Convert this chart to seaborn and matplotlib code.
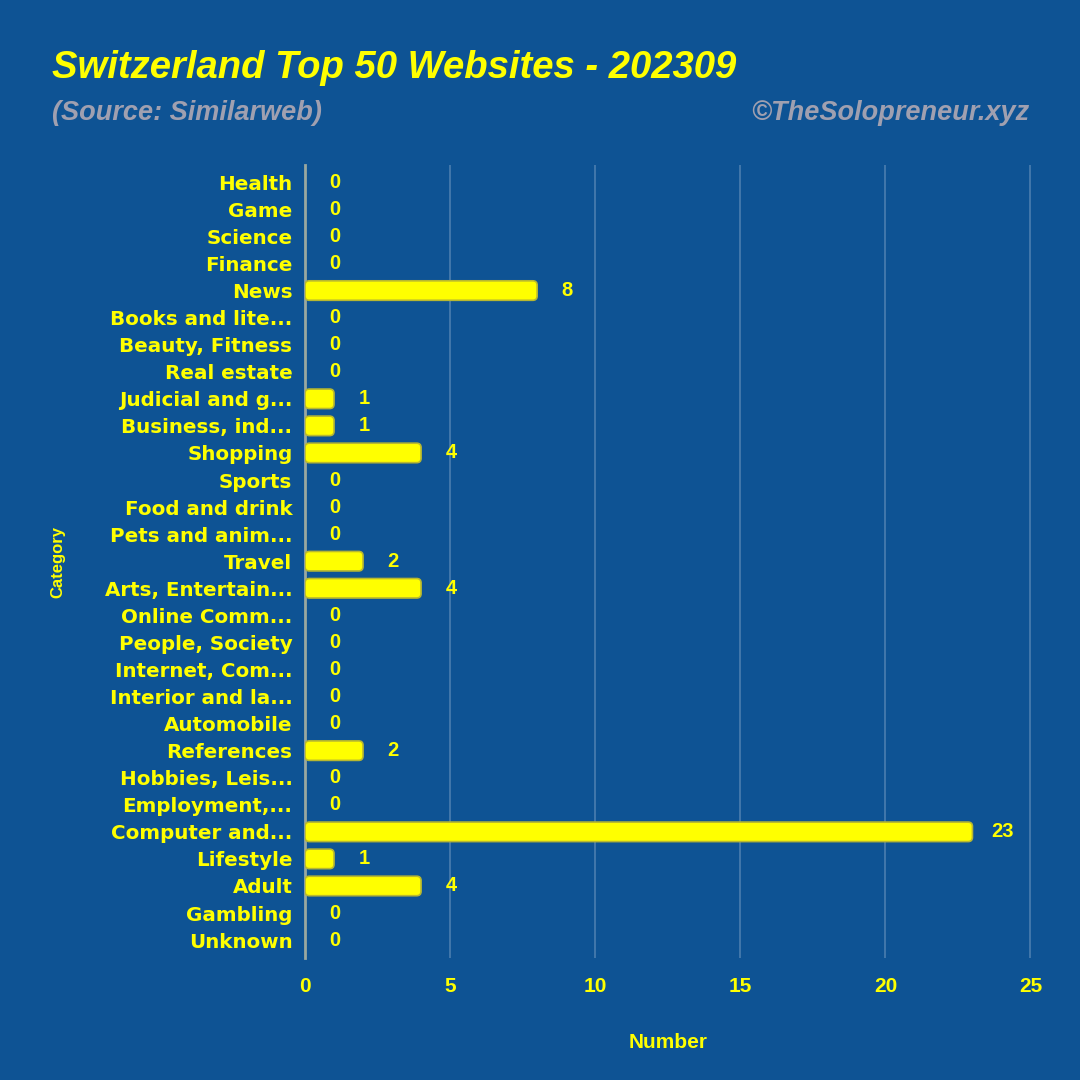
import matplotlib
matplotlib.use("Agg")
import matplotlib.pyplot as plt
import seaborn as sns
import pandas as pd
from matplotlib.patches import FancyBboxPatch

categories = ["Health", "Game", "Science", "Finance", "News", "Books and lite...",
              "Beauty, Fitness", "Real estate", "Judicial and g...", "Business, ind...",
              "Shopping", "Sports", "Food and drink", "Pets and anim...", "Travel",
              "Arts, Entertain...", "Online Comm...", "People, Society", "Internet, Com...",
              "Interior and la...", "Automobile", "References", "Hobbies, Leis...",
              "Employment,...", "Computer and...", "Lifestyle", "Adult", "Gambling", "Unknown"]
values = [0, 0, 0, 0, 8, 0, 0, 0, 1, 1, 4, 0, 0, 0, 2, 4, 0, 0, 0, 0, 0, 2, 0, 0, 23, 1, 4, 0, 0]
x_ticks = [0, 5, 10, 15, 20, 25]

title = "Switzerland Top 50 Websites - 202309"
subtitle = "(Source: Similarweb)"
credit = "©TheSolopreneur.xyz"

BG = "#0e5394"
YEL = "#ffff00"
NARROW = ['Liberation Sans Narrow', 'Liberation Sans']

sns.set_theme(style="white")
plt.rcParams['font.family'] = ['Liberation Sans', 'DejaVu Sans']

df = pd.DataFrame({"Category": categories, "Number": values})

fig = plt.figure(figsize=(10.8, 10.8), dpi=100, facecolor=BG)
ax = fig.add_axes([0.2824, 0.113, 0.6731, 0.734])
ax.set_facecolor(BG)

sns.barplot(data=df, x="Number", y="Category", orient="h", color=YEL,
            width=0.72, ax=ax, saturation=1)

# replace rectangles with rounded boxes
for p in list(ax.patches):
    x0, y0 = p.get_x(), p.get_y()
    w, h = p.get_width(), p.get_height()
    p.remove()
    if w <= 0:
        continue
    fb = FancyBboxPatch((x0, y0), w, h,
                        boxstyle="round,pad=0,rounding_size=0.15",
                        mutation_aspect=1.07,
                        facecolor=YEL, edgecolor="#b8b830", linewidth=1.2, zorder=3)
    ax.add_patch(fb)

ax.set_xlim(0, 25.05)
ax.set_ylim(len(categories) - 1 + 0.66, -0.63)
ax.set_xticks(x_ticks)
ax.set_xticklabels([str(t) for t in x_ticks])

for i, v in enumerate(values):
    ax.text(v + 1.03, i, str(v), va="center", ha="center", color=YEL,
            fontsize=14.5, fontweight="bold", family=NARROW)

ax.grid(axis="x", color="#ffffff", alpha=0.25, linewidth=1.2)
ax.grid(axis="y", visible=False)
ax.set_axisbelow(True)
for s in ["top", "right", "bottom"]:
    ax.spines[s].set_visible(False)
ax.spines["left"].set_color("#9aa8a0")
ax.spines["left"].set_linewidth(2)

ax.tick_params(axis="y", length=0, pad=9, labelsize=14.3, labelcolor=YEL)
ax.tick_params(axis="x", length=0, pad=14, labelsize=15, labelcolor=YEL)
for lab in ax.get_yticklabels():
    lab.set_fontweight("bold")
    lab.set_family(['DejaVu Sans'])
for lab in ax.get_xticklabels():
    lab.set_fontweight("bold")
    lab.set_family(NARROW)

ax.set_xlabel("Number", color=YEL, fontsize=15, fontweight="bold", labelpad=26,
              family=NARROW)
ax.set_ylabel("Category", color=YEL, fontsize=12, fontweight="bold")
ax.yaxis.set_label_coords(-0.33, 0.5)

fig.text(0.048, 0.937, title, color=YEL, fontsize=27.5, fontweight="bold",
         fontstyle="italic", va="center", ha="left")
fig.text(0.048, 0.895, subtitle, color="#a0a0b0", fontsize=19.5, fontweight="bold",
         fontstyle="italic", va="center", ha="left")
fig.text(0.953, 0.895, credit, color="#a0a0b0", fontsize=19.5, fontweight="bold",
         fontstyle="italic", va="center", ha="right")

fig.savefig("out.png", dpi=100, facecolor=BG)
